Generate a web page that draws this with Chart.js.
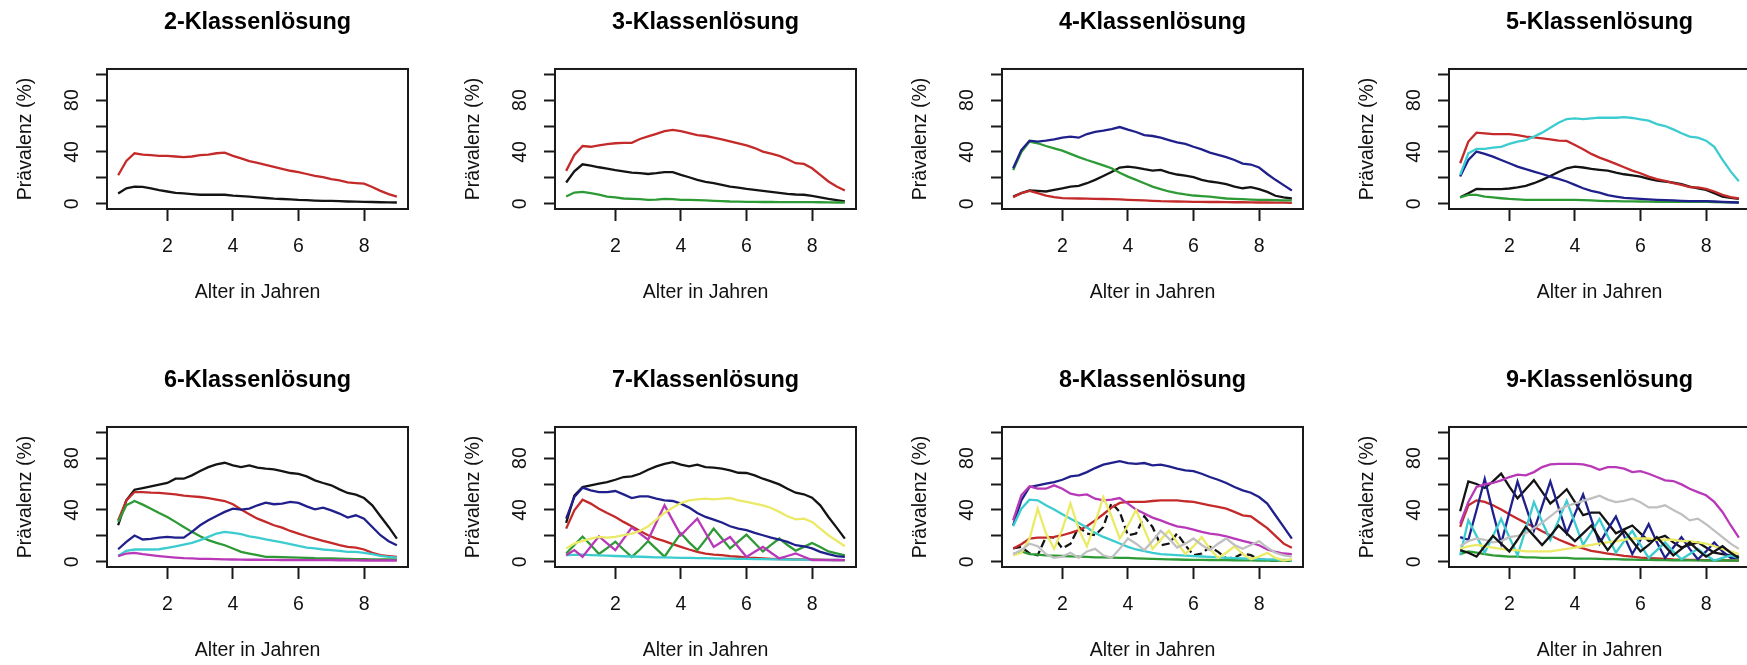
<!DOCTYPE html>
<html>
<head>
<meta charset="utf-8">
<script src="https://cdn.jsdelivr.net/npm/chart.js@4.4.1/dist/chart.umd.min.js"></script>
<style>
  html, body { margin: 0; padding: 0; background: #fff; overflow: hidden; width: 1747px; height: 665px; }
  canvas.panel { position: absolute; }
</style>
</head>
<body>
<script>
// Alter in Jahren (Messzeitpunkte, Vierteljahresschritte)
const alterJahre = [0.5, 0.75, 1.0, 1.25, 1.5, 1.75, 2.0, 2.25, 2.5, 2.75, 3.0, 3.25, 3.5, 3.75, 4.0, 4.25, 4.5, 4.75,
  5.0, 5.25, 5.5, 5.75, 6.0, 6.25, 6.5, 6.75, 7.0, 7.25, 7.5, 7.75, 8.0, 8.25, 8.5, 8.75, 9.0];
const xTickWerte = [2, 4, 6, 8];
const yTickWerte = [0, 20, 40, 60, 80, 100];
const yTickBeschriftet = [0, 40, 80];
const titel = ['2-Klassenlösung', '3-Klassenlösung', '4-Klassenlösung', '5-Klassenlösung',
  '6-Klassenlösung', '7-Klassenlösung', '8-Klassenlösung', '9-Klassenlösung'];

// Prävalenzen (%) je Klasse
const k2_schwarz = [8, 12, 13.3, 13, 12, 10.5, 9.5, 8.5, 8, 7.5, 7, 7, 7, 7, 6.3, 6, 5.5, 5, 4.5, 4, 3.7, 3.4, 3, 2.8, 2.5, 2.3, 2.2, 2, 1.8, 1.7, 1.5, 1.4, 1.2, 1.1, 1];
const k2_rot = [22, 33, 39, 38, 37.5, 37, 37, 36.5, 36, 36.5, 37.5, 38, 39, 39.5, 37, 35, 33, 31.5, 30, 28.5, 27, 25.5, 24.5, 23, 21.5, 20.5, 19, 18, 16.5, 16, 15.5, 13, 10, 7.5, 5.5];

const k3_schwarz = [16.4, 25, 30.5, 29.5, 28.2, 27.2, 26, 25, 24, 23.6, 23, 23.6, 24.4, 24.4, 22.3, 20.5, 18.5, 17, 16, 14.6, 13.3, 12.5, 11.5, 10.8, 10, 9.2, 8.5, 7.7, 7.2, 7, 6.1, 5, 3.8, 2.8, 1.8];
const k3_rot = [25.4, 37.7, 44.6, 44, 45, 46, 46.7, 47, 47, 50, 52, 54, 56, 57, 56, 54.5, 53, 52.3, 51, 49.7, 48.2, 46.7, 45, 43, 40.3, 38.7, 37, 34.4, 31.3, 30.8, 27.4, 22.3, 17.2, 13.3, 10.3];
const k3_gruen = [5.6, 8.7, 9.2, 8.2, 7, 5.6, 4.9, 4.1, 3.8, 3.6, 3.1, 3.3, 3.8, 3.6, 3.1, 3, 2.8, 2.6, 2.3, 2.1, 1.8, 1.7, 1.5, 1.5, 1.4, 1.4, 1.3, 1.3, 1.3, 1.3, 1.3, 1.2, 1.1, 1, 1];

const k4_schwarz = [5.6, 8.2, 10.3, 10, 9.5, 10.8, 12, 13.3, 13.8, 15.9, 18.5, 21.5, 24.6, 28, 28.7, 28, 26.7, 25.6, 26.2, 24, 22.6, 21.8, 20.5, 18.5, 17.2, 16.4, 15.1, 13.3, 12, 12.8, 11.3, 9.2, 6.2, 4.9, 4.1];
const k4_rot = [5.1, 8.2, 10, 8.2, 6.4, 5.1, 4.4, 4.2, 4.1, 4, 3.8, 3.7, 3.6, 3.4, 3.1, 2.9, 2.6, 2.3, 2, 1.9, 1.8, 1.7, 1.5, 1.5, 1.4, 1.4, 1.3, 1.2, 1.2, 1.1, 1, 1, 0.9, 0.9, 0.8];
const k4_gruen = [26, 40, 48, 46.7, 44.6, 42.8, 41, 38.5, 36, 33.8, 31.8, 29.7, 27.4, 24, 21, 18.5, 15.9, 13.3, 11.3, 9.5, 8.2, 7.2, 6.4, 6, 5.6, 4.8, 4.1, 3.8, 3.6, 3.3, 3.1, 3, 2.8, 2.7, 2.6];
const k4_blau = [27.4, 41.5, 48.7, 48, 48.7, 49.7, 51, 51.8, 51, 53.8, 55.4, 56.4, 57.7, 59.2, 57.2, 55.4, 53, 52.3, 51, 49.2, 47.4, 46.2, 44, 42, 39.5, 37.7, 36, 33.8, 31, 30.3, 28, 23, 18.5, 14.4, 10.3];

const k5_schwarz = [5.1, 8.2, 11.5, 11.3, 11.3, 11.3, 11.8, 12.6, 13.8, 15.9, 18.5, 21.5, 24.6, 27.4, 28.7, 28, 26.9, 26.2, 25.6, 24.1, 22.8, 22, 21, 19.2, 17.9, 17.2, 16.4, 15.1, 13.3, 12, 10.8, 8.2, 5.6, 4.6, 3.8];
const k5_rot = [31.3, 48, 54.9, 54.4, 53.8, 53.8, 53.8, 53, 51.8, 51.3, 50.5, 49.7, 48.7, 48.5, 45.4, 42, 38.5, 35.6, 33.3, 30.8, 28.2, 25.6, 23.6, 21, 19, 17.7, 15.9, 14.6, 12.8, 12.6, 11.5, 9.5, 6.9, 5.1, 4.1];
const k5_gruen = [4.9, 6.9, 6.9, 5.6, 4.9, 4.3, 3.8, 3.5, 3.1, 3.1, 3.1, 3.1, 3.1, 3.1, 3.1, 2.9, 2.6, 2.3, 2, 2, 1.9, 1.9, 1.8, 1.7, 1.6, 1.6, 1.5, 1.5, 1.5, 1.5, 1.5, 1.3, 1.2, 1.1, 1];
const k5_blau = [21, 33.8, 40.3, 38.5, 36.4, 33.8, 31.3, 28.7, 26.7, 24.9, 23, 21, 19.2, 17.2, 14.6, 12, 10, 8.7, 6.7, 5.6, 4.6, 4.2, 3.8, 3.4, 3.1, 2.8, 2.6, 2.3, 2, 2, 2, 1.8, 1.5, 1.2, 1];
const k5_cyan = [22.3, 39, 42.3, 42.3, 43.3, 44, 46.2, 48, 49.2, 51.8, 54.9, 58.7, 62.6, 65.4, 65.9, 65.4, 65.9, 66.4, 66.4, 66.4, 66.9, 66.2, 65.1, 64.1, 61.5, 60, 57.4, 54.4, 51.8, 51, 48.7, 44, 34, 25, 17.4];

const k6_schwarz = [28.2, 47.4, 55.6, 56.9, 58.2, 59.5, 60.8, 64.1, 64.1, 66.7, 70, 73, 75.1, 76.4, 74.4, 73.1, 74.4, 72.6, 71.8, 71.3, 70, 68.5, 67.9, 65.9, 62.8, 60.8, 59, 55.9, 53.1, 51.8, 49.2, 43.6, 35.1, 26.9, 17.9];
const k6_rot = [32, 47.4, 53.8, 53.8, 53.3, 53.1, 52.6, 52, 51, 50.5, 50, 49.2, 48, 46.9, 44.4, 40.3, 36.7, 33.3, 30.8, 28.2, 26.4, 23.8, 21.8, 19.7, 17.9, 16.2, 14.6, 12.8, 11.5, 11, 9.5, 6.9, 5.1, 4.4, 3.8];
const k6_gruen = [30.8, 43.6, 46.9, 44.1, 41, 37.7, 34.6, 30.8, 26.9, 23.1, 19.7, 16.7, 14.6, 12.8, 10.3, 7.7, 6.4, 5.1, 3.8, 3.8, 3.6, 3.4, 3.3, 3.1, 2.8, 2.7, 2.6, 2.4, 2.3, 2.1, 2, 1.9, 1.9, 1.8, 1.8];
const k6_blau = [9.7, 15.4, 20.3, 17.2, 17.7, 18.7, 19.2, 18.7, 18.7, 23.1, 28.2, 32, 35.4, 38.5, 41, 40.3, 41, 43.6, 45.6, 44.4, 44.9, 46.2, 45.4, 42.8, 40.5, 41.8, 39.7, 37.2, 34.1, 35.9, 33.3, 26.9, 20.5, 15.9, 12.8];
const k6_cyan = [4.6, 8.5, 9.5, 9.5, 9.5, 9.7, 10.8, 12, 13.3, 14.6, 16.7, 19.2, 21.8, 23.1, 22.3, 21.3, 19.7, 18.7, 17.4, 16.2, 14.9, 13.6, 12.3, 11, 10.3, 9.5, 9, 8.5, 7.7, 7.7, 6.9, 5.9, 4.6, 3.8, 3.3];
const k6_magenta = [4.4, 6.4, 6.9, 5.9, 5.1, 4.4, 3.8, 3.3, 2.8, 2.6, 2.3, 2.2, 2, 1.9, 1.8, 1.7, 1.6, 1.6, 1.5, 1.5, 1.4, 1.4, 1.3, 1.3, 1.3, 1.3, 1.3, 1.2, 1.2, 1.1, 1, 1, 1, 1, 1];

const k7_schwarz = [30, 51, 57.7, 59, 60.3, 61.5, 63.3, 65.4, 65.9, 67.9, 71, 73.6, 75.6, 76.9, 74.9, 73.6, 74.9, 73.1, 72.6, 71.8, 70.5, 68.7, 68.5, 66.7, 64.1, 62.1, 59.7, 56.4, 53.3, 52.1, 49.5, 43.6, 34.6, 26.4, 17.9];
const k7_rot = [25.6, 39.7, 47.9, 44.9, 41, 37.7, 34.6, 30.8, 27.4, 23.8, 20.5, 17.9, 15.9, 13.6, 11.5, 9.5, 7.7, 6.4, 5.6, 5.1, 4.4, 3.9, 3.3, 3, 2.6, 2.3, 2, 2, 1.9, 1.9, 1.8, 1.6, 1.5, 1.4, 1.3];
const k7_gruen = [6.4, 13, 19.5, 13, 6, 10.5, 15.5, 9.5, 3.8, 9.5, 16, 10, 4, 13, 22, 15, 9, 17, 25.6, 18, 10.3, 15.5, 21, 14.5, 8, 13, 18, 13, 8.5, 11.5, 14.5, 11.5, 8, 6.5, 5];
const k7_blau = [33.3, 50, 57.2, 55.1, 53.8, 53.8, 54.6, 52, 49.2, 50.5, 50.5, 48.7, 47.4, 46.9, 44.9, 41.8, 37.7, 34.6, 32.6, 30.3, 27.4, 25.6, 24.4, 22.3, 20.5, 18.7, 17.2, 15.4, 12.8, 12, 10.3, 7.7, 5.9, 4.4, 3.8];
const k7_cyan = [5.1, 5.3, 5.5, 5.2, 5, 4.8, 4.5, 4.3, 4.1, 3.9, 3.7, 3.5, 3.4, 3.3, 3.1, 3, 2.9, 2.8, 2.6, 2.5, 2.4, 2.3, 2.2, 2.1, 2, 1.9, 1.9, 1.8, 1.7, 1.7, 1.6, 1.5, 1.4, 1.4, 1.3];
const k7_magenta = [5.1, 9, 3.8, 11.8, 19.7, 14.3, 9, 17.7, 26.4, 21.7, 17, 30.3, 43.6, 32, 20.5, 27, 33.3, 22.4, 11.5, 15.4, 19.2, 11.5, 3.8, 7.7, 11.5, 7, 2.6, 4.5, 6.4, 3.9, 1.3, 1.3, 1.3, 1.3, 1.3];
const k7_gelb = [10.3, 14.1, 16.2, 17.9, 19.2, 18.7, 19.2, 20.5, 21.8, 23.8, 27.4, 32.6, 37.7, 41.8, 45.4, 47.4, 48.2, 48.7, 48.2, 48.7, 49.2, 47.4, 46.2, 44.9, 43.6, 41.5, 38.5, 35.1, 32.8, 33.3, 30.8, 25.6, 20.5, 16.2, 12];

const k8_schwarz = [10.3, 11.5, 6.4, 5.1, 19.2, 18.7, 10.3, 14, 26.9, 21.8, 20.5, 26.9, 45.4, 38.5, 20.5, 21.8, 35.1, 26.9, 12.8, 14.1, 21.8, 12.8, 5.1, 6.4, 11.5, 7.7, 2.6, 3.3, 6.4, 5.1, 1.8, 1.3, 1, 0.9, 0.8];
const k8_rot = [10.3, 13.6, 17.9, 18.7, 18.7, 19.2, 20.5, 22.3, 24.4, 27.4, 32, 36.7, 41.8, 45.4, 46.2, 46.2, 46.2, 46.9, 47.4, 47.4, 47.4, 46.7, 46.2, 44.9, 43.6, 42.3, 41, 38.5, 35.9, 35.1, 30.5, 26, 20, 14, 10.8];
const k8_gruen = [6, 8, 6, 5.5, 5, 4.8, 4.5, 4.2, 4, 3.8, 3.5, 3.4, 3.3, 3.1, 3, 2.7, 2.5, 2.2, 2, 1.9, 1.8, 1.6, 1.5, 1.5, 1.4, 1.3, 1.3, 1.2, 1.1, 1.1, 1, 1, 1, 1, 1];
const k8_blau = [28.2, 47.4, 57.7, 59, 60.3, 61.5, 63.3, 65.9, 66.7, 69.2, 72.3, 74.9, 76.4, 77.7, 76.2, 75.6, 76.2, 74.4, 74.9, 73.6, 71.8, 70.5, 70, 67.9, 65.4, 63.3, 60.8, 57.7, 55.1, 53.3, 50, 44.9, 35.9, 26.9, 17.9];
const k8_cyan = [27.4, 41, 47.9, 47.4, 43.6, 40.3, 36.7, 33.3, 30, 26.4, 22.3, 19.2, 16.7, 14.1, 11.5, 9.5, 8.2, 6.9, 5.9, 5.5, 5.1, 4.7, 4.4, 4.1, 3.8, 3.4, 3.1, 2.9, 2.6, 2.3, 2, 1.9, 1.8, 1.5, 1.3];
const k8_magenta = [32, 51.3, 58.2, 56.4, 56.4, 59, 56.4, 52.6, 51.3, 52, 48.7, 47.4, 47.9, 49.2, 44.9, 40.3, 37.2, 34.1, 32, 29.5, 27.4, 26.4, 24.9, 23.1, 21.8, 21, 19.7, 17.9, 16.2, 14.6, 12.8, 9.5, 7.7, 6.4, 5.9];
const k8_gelb = [5, 7, 18, 41, 22, 10, 25, 45, 25, 12, 30, 50, 35, 18, 28, 40, 25, 10, 17, 24, 15, 6, 12, 19, 10, 3, 7, 12, 6, 2, 4, 7, 3, 1, 2];
const k8_grau = [6, 9, 14, 12, 6, 3, 4, 7, 3, 8, 10, 5, 3, 10, 18, 14, 9, 16, 24, 18, 11, 14, 18, 13, 9, 14, 18, 13, 10, 13, 16, 11, 7, 5, 4];

const k9_schwarz = [39, 62, 60, 57, 62, 68, 58, 49, 56, 63, 54, 45, 50, 56, 46, 36, 38, 38, 30, 22, 25, 28, 22, 16, 18, 20, 15, 11, 13, 15, 11, 7, 6, 5, 4];
const k9_rot = [27, 43.6, 47.4, 46.2, 43.6, 40.3, 36.7, 33.3, 30, 27, 23.6, 20.5, 17.2, 14.6, 12, 10.3, 8.5, 7.4, 6.4, 5.5, 4.6, 4, 3.3, 2.9, 2.6, 2.2, 1.8, 1.7, 1.5, 1.4, 1.3, 1.2, 1.1, 1, 1];
const k9_gruen = [6, 8, 7, 6, 5, 4.5, 4, 4, 3.5, 3.5, 3, 3, 3, 3, 2.5, 2.5, 2.5, 2.3, 2, 2, 1.8, 1.7, 1.5, 1.5, 1.4, 1.3, 1.2, 1.2, 1.1, 1.1, 1, 1, 1, 1, 1];
const k9_blau = [19, 17, 40, 64, 38, 14, 38, 62, 43, 24, 43, 62, 42, 22, 37, 52, 33, 14, 25, 35, 20, 6, 17, 29, 15, 3, 11, 19, 10, 2, 8, 15, 8, 3, 3];
const k9_cyan = [5, 32, 20, 7, 20, 33, 19, 5, 25, 46, 31, 17, 32, 47, 30, 13, 23, 33, 20, 7, 16, 24, 13, 3, 9, 15, 8, 2, 6, 10, 5, 1, 3, 5, 3];
const k9_magenta = [29.5, 46.2, 57.7, 59.7, 60.8, 62.8, 65.4, 67.2, 66.7, 69.2, 73.1, 75.1, 75.6, 75.6, 75.6, 75.1, 73.6, 71, 73.1, 73.1, 71.8, 69.2, 70, 67.9, 65.4, 62.8, 62.3, 59.7, 56.4, 53.8, 51.3, 46.2, 38.5, 28.2, 18.7];
const k9_gelb = [10, 12, 13, 12, 11, 10, 9, 9, 8, 8, 8, 8, 9, 10, 11, 12, 13, 14, 15, 16, 17, 18, 18, 18, 17, 17, 17, 16, 16, 15, 14, 12, 10, 8, 6];
const k9_grau = [12, 16, 18, 17, 15, 16, 19, 20, 22, 26, 30, 35, 40, 43, 45, 47, 49, 51, 48, 46, 47, 48.7, 46, 42, 42, 43.6, 40, 36.7, 32, 33.3, 29, 24, 19, 14, 10];
const k9_schwarz2 = [9, 7, 4, 12, 20, 14, 8, 17, 27, 20, 13, 20, 28, 22, 16, 22, 28, 18, 9, 17, 24, 16, 8, 13, 19, 12, 5, 10, 15, 9, 4, 8, 12, 7, 3];

// Farbpalette der Klassen (in Zeichenreihenfolge)
const farbe = {
  schwarz: '#141414', rot: '#c42a2a', gruen: '#2e9a36', blau: '#20208c',
  cyan: '#3ccccf', magenta: '#b838b8', gelb: '#eaea66', grau: '#c0c0c0'
};

const panels = [
  [[k2_schwarz, 'schwarz'], [k2_rot, 'rot']],
  [[k3_schwarz, 'schwarz'], [k3_rot, 'rot'], [k3_gruen, 'gruen']],
  [[k4_schwarz, 'schwarz'], [k4_rot, 'rot'], [k4_gruen, 'gruen'], [k4_blau, 'blau']],
  [[k5_schwarz, 'schwarz'], [k5_rot, 'rot'], [k5_gruen, 'gruen'], [k5_blau, 'blau'], [k5_cyan, 'cyan']],
  [[k6_schwarz, 'schwarz'], [k6_rot, 'rot'], [k6_gruen, 'gruen'], [k6_blau, 'blau'], [k6_cyan, 'cyan'], [k6_magenta, 'magenta']],
  [[k7_schwarz, 'schwarz'], [k7_rot, 'rot'], [k7_gruen, 'gruen'], [k7_blau, 'blau'], [k7_cyan, 'cyan'], [k7_magenta, 'magenta'], [k7_gelb, 'gelb']],
  [[k8_schwarz, 'schwarz', [8, 4]], [k8_rot, 'rot'], [k8_gruen, 'gruen'], [k8_blau, 'blau'], [k8_cyan, 'cyan'], [k8_magenta, 'magenta'], [k8_gelb, 'gelb'], [k8_grau, 'grau']],
  [[k9_schwarz, 'schwarz'], [k9_rot, 'rot'], [k9_gruen, 'gruen'], [k9_blau, 'blau'], [k9_cyan, 'cyan'], [k9_magenta, 'magenta'], [k9_gelb, 'gelb'], [k9_grau, 'grau'], [k9_schwarz2, 'schwarz']]
];

const schrift = "'Liberation Sans', Arial, Helvetica, sans-serif";
const canvasBreite = 448, canvasHoehe = 358;
const panelLinks = [0, 448, 895, 1342];
const panelOben = [0, 358];

// Rahmen um den Plotbereich
const rahmen = {
  id: 'rahmen',
  beforeDatasetsDraw(chart) {
    const { ctx, chartArea: a } = chart;
    ctx.save();
    ctx.strokeStyle = '#1a1a1a';
    ctx.lineWidth = 2;
    ctx.strokeRect(a.left, a.top, a.right - a.left, a.bottom - a.top);
    ctx.restore();
  }
};

function zeichnePanel(idx) {
  const cv = document.createElement('canvas');
  cv.className = 'panel';
  cv.width = canvasBreite;
  cv.height = canvasHoehe;
  cv.style.left = panelLinks[idx % 4] + 'px';
  cv.style.top = panelOben[Math.floor(idx / 4)] + 'px';
  cv.style.width = canvasBreite + 'px';
  cv.style.height = canvasHoehe + 'px';
  document.body.appendChild(cv);

  const serien = panels[idx];
  const datasets = serien.map(([werte, f, strich], i) => ({
    data: alterJahre.map((x, j) => ({ x: x, y: werte[j] })),
    borderColor: farbe[f],
    borderWidth: 2.3,
    borderDash: strich || [],
    pointRadius: 0,
    tension: 0,
    fill: false,
    order: serien.length - i
  }));

  new Chart(cv, {
    type: 'line',
    data: { datasets },
    options: {
      responsive: false,
      animation: false,
      devicePixelRatio: 1,
      layout: { padding: { left: 0, right: 40, top: 0, bottom: 0 } },
      plugins: {
        legend: { display: false },
        tooltip: { enabled: false },
        title: {
          display: true,
          text: titel[idx],
          fullSize: false,
          color: '#000',
          font: { family: schrift, size: 23.4, weight: 'bold', lineHeight: 1.2 },
          padding: { top: 9, bottom: 31.9 }
        }
      },
      scales: {
        x: {
          type: 'linear',
          position: 'bottom',
          min: 0.16,
          max: 9.34,
          afterBuildTicks: s => { s.ticks = xTickWerte.map(v => ({ value: v })); },
          afterFit: s => { s.height = 149; },
          grid: { display: true, drawOnChartArea: false, drawTicks: true, tickLength: 12, tickWidth: 2, tickColor: '#1a1a1a' },
          border: { display: false },
          ticks: {
            font: { family: schrift, size: 19.5 },
            color: '#111',
            padding: 14,
            maxRotation: 0,
            minRotation: 0,
            autoSkip: false,
            callback: v => String(v)
          },
          title: {
            display: true,
            text: 'Alter in Jahren',
            color: '#111',
            font: { family: schrift, size: 19.5, lineHeight: 1.2 },
            padding: { top: 0, bottom: 53.3 }
          }
        },
        y: {
          type: 'linear',
          position: 'left',
          min: -4,
          max: 104,
          afterBuildTicks: s => { s.ticks = yTickWerte.map(v => ({ value: v })); },
          afterFit: s => { s.width = 107; },
          grid: { display: true, drawOnChartArea: false, drawTicks: true, tickLength: 11, tickWidth: 2, tickColor: '#1a1a1a' },
          border: { display: false },
          ticks: {
            font: { family: schrift, size: 19.5 },
            color: '#111',
            padding: 13,
            minRotation: 90,
            maxRotation: 90,
            crossAlign: 'center',
            autoSkip: false,
            callback: v => (yTickBeschriftet.includes(v) ? String(v) : '')
          },
          title: {
            display: true,
            text: 'Prävalenz (%)',
            color: '#111',
            font: { family: schrift, size: 19.5, lineHeight: 1.2 },
            padding: { top: 14.3, bottom: 0 }
          }
        }
      }
    },
    plugins: [rahmen]
  });
}

for (let i = 0; i < 8; i++) zeichnePanel(i);
</script>
</body>
</html>
